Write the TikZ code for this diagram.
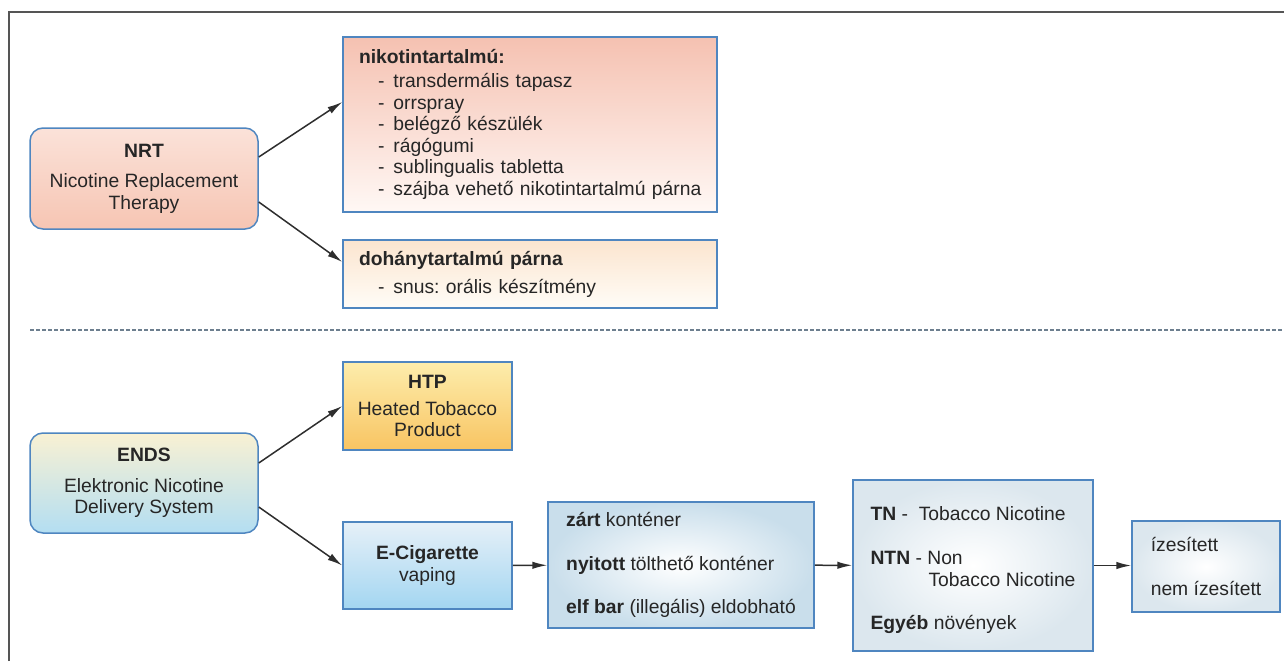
\documentclass[tikz,border=0pt]{standalone}
\usepackage{fontspec}
\setmainfont{Liberation Sans}
\usetikzlibrary{arrows.meta,positioning}

\definecolor{boxblue}{HTML}{4F86C0}
\definecolor{txtgray}{HTML}{262626}
\definecolor{arrowgray}{HTML}{2E2E2E}
\definecolor{framegray}{HTML}{555555}
\definecolor{dashgray}{HTML}{6D7F8F}
\definecolor{nrttop}{HTML}{FBE2D9}
\definecolor{nrtbot}{HTML}{F6C5B3}
\definecolor{nikotop}{HTML}{F5C1B1}
\definecolor{nikobot}{HTML}{FFF8F5}
\definecolor{dohtop}{HTML}{FBE5CF}
\definecolor{dohbot}{HTML}{FFFCF7}
\definecolor{htptop}{HTML}{FDEDAC}
\definecolor{htpbot}{HTML}{F8C462}
\definecolor{endstop}{HTML}{F9F1D3}
\definecolor{endsbot}{HTML}{B3DEF2}
\definecolor{ecigtop}{HTML}{E6F0F8}
\definecolor{ecigbot}{HTML}{A3D6F1}
\definecolor{bluegray}{HTML}{C9DEEB}
\definecolor{palegray}{HTML}{DCE7EE}

\newcommand{\dashitem}[1]{\mbox{\hspace*{19pt}-\hspace*{9pt}#1}}
\frenchspacing

\begin{document}
\begin{tikzpicture}[
        x=1pt, y=-1pt,
        every node/.style={text=txtgray, font=\fontsize{19.3}{21.6}\selectfont},
        box/.style={draw=boxblue, line width=1.5pt, rectangle, inner sep=0pt},
        roundbox/.style={box, rounded corners=13pt},
        connector/.style={draw=arrowgray, line width=1.5pt, -{Latex[length=15pt,width=7.5pt]}},
    ]
    \useasboundingbox (0,0) rectangle (1284,661);

    % === FRAME ===
    \draw[framegray, line width=1.5pt] (9,661) -- (9,12) -- (1284,12);
    \draw[dashgray, line width=1.5pt, dash pattern=on 4pt off 2pt] (30,330) -- (1284,330);

    % === NRT ===
    \node[roundbox, top color=nrttop, bottom color=nrtbot, minimum width=228pt, minimum height=101pt, align=center]
        (nrt) at (144,178.5) {\textbf{NRT}\\[9pt]Nicotine Replacement\\Therapy};

    \node[box, top color=nikotop, bottom color=nikobot, minimum width=374pt, minimum height=175pt,
          text width=342pt, inner xsep=16pt, align=left] (niko) at (530,124.5)
        {\textbf{nikotintartalmú:}\\[2.4pt]
         \dashitem{transdermális tapasz}\\
         \dashitem{orrspray}\\
         \dashitem{belégző készülék}\\
         \dashitem{rágógumi}\\
         \dashitem{sublingualis tabletta}\\
         \dashitem{szájba vehető nikotintartalmú párna}};

    \node[box, top color=dohtop, bottom color=dohbot, minimum width=374pt, minimum height=68pt,
          text width=342pt, inner xsep=16pt, align=left] (doh) at (530,274)
        {\textbf{dohánytartalmú párna}\\[6.4pt]
         \dashitem{snus: orális készítmény}};

    \draw[connector] ([yshift=21.5pt]nrt.east) -- ([yshift=22.5pt]niko.west);
    \draw[connector] ([yshift=-23.5pt]nrt.east) -- ([yshift=12pt]doh.west);

    % === ENDS ===
    \node[roundbox, top color=endstop, bottom color=endsbot, minimum width=228pt, minimum height=100pt, align=center]
        (ends) at (144,483) {\textbf{ENDS}\\[9pt]Elektronic Nicotine\\Delivery System};

    \node[box, top color=htptop, bottom color=htpbot, minimum width=169pt, minimum height=88pt, align=center]
        (htp) at (427.5,406) {\textbf{HTP}\\[5pt]Heated Tobacco\\Product};

    \node[box, top color=ecigtop, bottom color=ecigbot, minimum width=169pt, minimum height=87pt, align=center]
        (ecig) at (427.5,565.5) {\textbf{E-Cigarette}\\vaping};

    \node[box, inner color=white, outer color=bluegray, minimum width=266pt, minimum height=126pt, align=left]
        (kont) at (681,565)
        {\textbf{zárt} konténer\\[22pt]
         \textbf{nyitott} tölthető konténer\\[22pt]
         \textbf{elf bar} (illegális) eldobható};

    \node[box, inner color=white, outer color=palegray, minimum width=240pt, minimum height=171pt, align=left]
        (nic) at (973,565.5)
        {\rule{0pt}{23.5pt}\textbf{TN} -\ \ Tobacco Nicotine\\[22.4pt]
         \textbf{NTN} - Non\\
         \hspace*{58pt}Tobacco Nicotine\\[21.6pt]
         \textbf{Egyéb} növények};

    \node[box, inner color=white, outer color=palegray, minimum width=148pt, minimum height=91pt, align=left]
        (iz) at (1206,566.5) {ízesített\\[21.6pt]nem ízesített};

    \draw[connector] ([yshift=20pt]ends.east) -- (htp.west);
    \draw[connector] ([yshift=-24pt]ends.east) -- (ecig.west);
    \draw[connector] (ecig) -- (kont);
    \draw[connector] (kont) -- (nic);
    \draw[connector] (nic.east) -- (iz.west |- nic.east);

\end{tikzpicture}
\end{document}
